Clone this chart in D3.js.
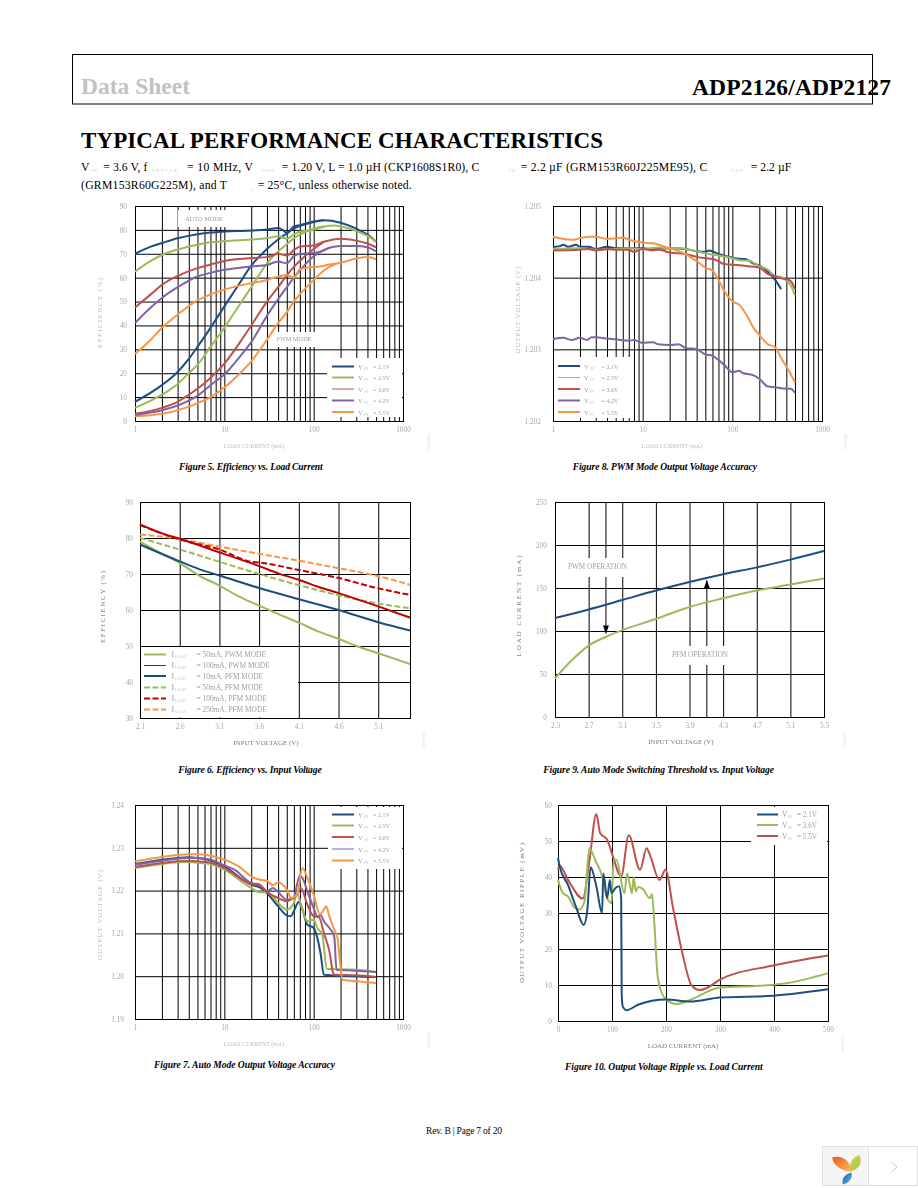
<!DOCTYPE html>
<html>
<head>
<meta charset="utf-8">
<style>
  html, body { margin: 0; padding: 0; background: #fff; }
  svg { display: block; }
  text { font-family: "Liberation Serif", serif; }
</style>
</head>
<body>
<svg width="918" height="1188"></svg>
<script src="https://d3js.org/d3.v7.min.js"></script>
<script>

// figure 5: efficiency vs load current, [mA, %]
var fig5Auto21 = [[1,70],[1.5,73],[2,74.5],[3,76.5],[5,78.2],[7,78.9],[10,79.3],[20,79.7],[30,80.2],[40,80.8],[45,80],[50,78.8],[55,80],[60,81.5],[70,82],[100,83.5],[130,84],[200,83],[300,80.5],[400,78],[500,75]];
var fig5Auto25 = [[1,62.5],[1.5,67],[2,69.5],[3,71.8],[5,73.8],[7,74.8],[10,75.3],[20,76],[30,76.5],[40,77.3],[50,76.3],[60,78],[70,79.3],[100,80],[130,81.3],[170,81.8],[200,81.5],[300,79.5],[400,77.5],[500,75]];
var fig5Auto36 = [[1,47.5],[1.5,53],[2,57],[3,60.7],[5,64],[7,65.5],[10,67],[20,68.2],[30,68.6],[40,70],[50,69.3],[60,71.5],[70,73],[100,73.5],[130,75],[200,76.3],[300,75.5],[400,74.3],[500,72.7]];
var fig5Auto42 = [[1,41],[1.5,47.5],[2,51.5],[3,56],[5,60.5],[7,62],[10,63.3],[20,64.7],[30,65.3],[40,66.8],[50,66],[60,69],[70,70],[100,70.3],[120,71],[150,72.5],[200,73.3],[300,73.3],[400,72.7],[500,71]];
var fig5Auto55 = [[1,28],[1.5,34],[2,39],[3,44.5],[5,50.5],[7,53],[10,55],[20,57.7],[30,59],[40,60.5],[50,61],[60,60],[70,63.5],[100,64.5],[120,64.7],[150,65.5],[200,66.3],[300,68],[400,68.6],[500,67.7]];
var fig5Pwm21 = [[1,8],[2,15],[3,20.5],[4,26],[5,31],[7,39],[10,48],[15,58],[20,65],[30,72],[40,76],[50,78.5],[60,80.5],[100,83.3],[130,84]];
var fig5Pwm25 = [[1,5.5],[2,11],[3,15.5],[4,20],[5,23.5],[7,31],[10,39],[15,49],[20,56],[30,66],[40,71],[50,74],[60,76.5],[70,78],[100,80.5],[130,81.5]];
var fig5Pwm36 = [[1,3],[2,5.5],[3,8],[4,11],[5,13.5],[7,18],[10,24],[15,33],[20,40],[30,50],[40,56],[50,61],[60,64.5],[70,67],[100,72],[130,75]];
var fig5Pwm42 = [[1,2.5],[2,4.5],[3,6.5],[4,8.5],[5,10.5],[7,15],[10,19.5],[15,27],[20,33],[30,44],[40,51],[50,56],[60,60],[70,63],[100,69],[130,71.5],[150,72.5]];
var fig5Pwm55 = [[1,2],[2,3],[3,4.5],[4,6],[5,7.5],[7,10],[10,14],[15,20],[20,25],[30,34],[40,41],[50,45.5],[60,50],[70,53],[100,59],[130,63],[170,65.5],[200,66.3]];

// figure 8: pwm mode output voltage, [mA, V]
var fig8V21 = [[1,1.20443],[1.2,1.20444],[1.3,1.20446],[1.5,1.20443],[1.8,1.20446],[2,1.20443],[2.5,1.20443],[3,1.2044],[4,1.20443],[5,1.20441],[7,1.20441],[10,1.20441],[13,1.2044],[20,1.20441],[30,1.2044],[40,1.20437],[50,1.20436],[55,1.20438],[70,1.20433],[100,1.20428],[130,1.20426],[140,1.20426],[170,1.2042],[200,1.20417],[250,1.20408],[300,1.20397],[350,1.20384]];
var fig8V25 = [[1,1.2044],[2,1.20441],[3,1.20439],[5,1.2044],[7,1.20441],[10,1.2044],[15,1.20442],[20,1.20441],[27,1.20441],[30,1.2044],[40,1.20437],[50,1.20434],[60,1.20432],[70,1.20431],[100,1.20427],[130,1.20424],[150,1.20424],[200,1.20416],[250,1.20411],[300,1.20402],[350,1.20401],[400,1.20396],[450,1.20389],[500,1.20375]];
var fig8V36 = [[1,1.20438],[2,1.20439],[2.5,1.2044],[3,1.20438],[4,1.2044],[5,1.20439],[7,1.20439],[8,1.20436],[10,1.2044],[13,1.20438],[15,1.20439],[20,1.20435],[30,1.20433],[40,1.20429],[50,1.20427],[60,1.20426],[70,1.20423],[80,1.20419],[100,1.20418],[130,1.20417],[150,1.20416],[200,1.20414],[250,1.20405],[300,1.20402],[350,1.20399],[400,1.20398],[450,1.20395],[500,1.20384]];
var fig8V42 = [[1,1.20314],[1.3,1.20316],[1.6,1.20313],[2,1.20316],[2.4,1.20313],[2.7,1.20317],[3,1.20317],[4,1.20315],[5,1.20314],[7,1.20312],[8,1.20313],[10,1.20309],[13,1.2031],[15,1.20307],[20,1.20306],[25,1.20307],[30,1.20302],[40,1.203],[50,1.20293],[60,1.20291],[70,1.20285],[80,1.20279],[100,1.20268],[120,1.2027],[130,1.20267],[170,1.20264],[200,1.20259],[250,1.20248],[300,1.20247],[400,1.20245],[450,1.20245],[500,1.20239]];
var fig8V55 = [[1,1.20457],[1.3,1.20454],[1.7,1.20453],[2,1.20455],[2.5,1.20457],[3,1.20457],[4,1.20454],[5,1.20455],[6,1.20456],[7,1.20453],[10,1.20449],[13,1.20448],[15,1.20446],[20,1.20441],[30,1.20433],[40,1.20423],[50,1.20414],[60,1.2041],[70,1.20397],[80,1.20383],[100,1.20367],[120,1.20362],[150,1.20344],[170,1.20331],[200,1.2032],[250,1.20307],[300,1.20303],[350,1.20288],[400,1.20276],[450,1.20265],[500,1.20254]];

// figure 6: efficiency vs input voltage, [V, %]
var fig6Pwm50 = [[2.1,79],[2.3,76.5],[2.6,73],[2.85,69.5],[3.1,66.8],[3.35,63.7],[3.6,61.2],[3.85,58.8],[4.1,56.5],[4.35,54],[4.6,52],[4.85,49.8],[5.1,48],[5.3,46.5],[5.5,45]];
var fig6Pwm100 = [[2.1,83.8],[2.35,81.5],[2.6,79.8],[3.1,76],[3.6,72.2],[3.85,70.1],[4.1,68.4],[4.35,66.4],[4.6,64.7],[5.1,61],[5.5,57.9]];
var fig6Pfm10 = [[2.1,78.2],[2.6,73.5],[2.85,71.3],[3.1,69.6],[3.6,66.1],[4.1,63],[4.6,60],[5.1,56.6],[5.5,54.3]];
var fig6Pfm50 = [[2.1,80],[2.6,76.8],[3.1,73.4],[3.6,70],[4.1,66.9],[4.6,64.1],[5.1,61.8],[5.5,60.5]];
var fig6Pfm100 = [[2.1,83.6],[2.6,79.6],[3.1,76.8],[3.5,73.4],[3.6,73.2],[4.1,71.1],[4.6,68.9],[5.1,66],[5.5,64.2]];
var fig6Pfm250 = [[2.1,81],[2.6,79.7],[3.1,77.6],[3.6,75.6],[4.1,73.7],[4.6,71.6],[5.1,69.4],[5.5,67]];

// figure 9: switching threshold, [V, mA]
var fig9Upper = [[2.3,115],[2.7,125],[3.1,136],[3.5,147],[3.9,157],[4.3,166],[4.7,174],[5.1,183],[5.5,193]];
var fig9Lower = [[2.3,45],[2.5,66],[2.7,83],[2.9,93],[3.1,101],[3.5,114],[3.9,128],[4.3,138],[4.7,147],[5.1,154],[5.5,161]];

// figure 7: auto mode output voltage, [mA, V]
var fig7V21 = [[1,1.22621],[2,1.22723],[3,1.22762],[4,1.22777],[5,1.22762],[7,1.22707],[10,1.22567],[20,1.22139],[25,1.22076],[30,1.21944],[40,1.21632],[50,1.21422],[55,1.21399],[60,1.21516],[68,1.21734],[75,1.21554],[85,1.21204],[100,1.21126],[110,1.20892],[120,1.20503],[130,1.20036],[300,1.19997],[400,1.19981],[500,1.19981]];
var fig7V25 = [[1,1.22528],[2,1.22621],[3,1.2266],[4,1.22668],[5,1.22653],[7,1.22621],[10,1.22489],[20,1.22061],[25,1.21959],[30,1.21967],[40,1.2171],[50,1.21554],[60,1.2171],[65,1.21921],[75,1.21554],[85,1.21282],[100,1.21321],[110,1.21126],[125,1.2097],[140,1.20176],[300,1.20153],[500,1.20098]];
var fig7V36 = [[1,1.22551],[2,1.22645],[3,1.22684],[4,1.22692],[5,1.22684],[7,1.22653],[10,1.22528],[20,1.22154],[25,1.22123],[30,1.21967],[40,1.21827],[50,1.21749],[55,1.21788],[65,1.21905],[72,1.22061],[85,1.21671],[100,1.21399],[115,1.21375],[130,1.21009],[150,1.20581],[165,1.20075],[170,1.20036],[300,1.2002],[500,1.19981]];
var fig7V42 = [[1,1.22606],[2,1.22699],[3,1.22745],[4,1.22762],[5,1.22762],[7,1.22723],[10,1.2259],[13,1.22489],[20,1.22177],[25,1.22139],[30,1.21983],[35,1.22061],[40,1.21967],[50,1.21788],[60,1.21827],[65,1.22139],[70,1.22349],[75,1.22294],[85,1.21983],[100,1.21593],[110,1.21399],[120,1.21422],[130,1.21282],[150,1.21126],[170,1.20931],[180,1.20153],[230,1.20137],[300,1.20129],[500,1.20098]];
var fig7V55 = [[1,1.22684],[2,1.22785],[3,1.22832],[4,1.22847],[5,1.22847],[7,1.22816],[8,1.22785],[10,1.22723],[13,1.22621],[15,1.22544],[20,1.22333],[25,1.22255],[30,1.22232],[35,1.22123],[40,1.22193],[50,1.22022],[56,1.21827],[65,1.21905],[75,1.22528],[85,1.22294],[100,1.21905],[117,1.21453],[130,1.21554],[138,1.21632],[150,1.21399],[170,1.21087],[185,1.20892],[195,1.20425],[210,1.19919],[300,1.1988],[400,1.19857],[500,1.19841]];

// figure 10: output ripple, [mA, mV]
var fig10V21 = [[0,45.3],[3,43],[18.5,37.8],[34,31.4],[47.5,26.7],[54,30.4],[60.5,42.7],[71,37.4],[81.5,30],[84,41],[91,34.1],[96,39.2],[99,35.5],[107,37],[113,37.4],[117,34],[118,7.2],[120,4],[127,3],[148,4.5],[200,6],[244,5.4],[300,6.5],[398,7],[500,8.8]];
var fig10V36 = [[0,39.2],[9,35.5],[18.5,34.6],[31,31.4],[40,31],[49,33.2],[58,48],[70,44.3],[80,41],[90,34.6],[99,32.7],[103,44.8],[108,44.8],[123,35.5],[128,41],[137,35.5],[140,40],[144,36],[148,37.2],[157,36.7],[170,34.1],[174,35.3],[178,28],[185,11.9],[198,6.3],[219,4.7],[244,5.8],[300,9.3],[373,9.8],[423,10.5],[500,13.3]];
var fig10V55 = [[0,42],[3,43.2],[18.5,39.2],[46,34],[58,44.3],[71,57.5],[78,52.2],[91,50.4],[99,47],[117,40.2],[131,51.6],[152,42],[164,48],[170,46.2],[188,39.2],[199,42],[213,31.4],[231,18.4],[247,10],[262,8.6],[275,9.1],[299,11.4],[398,15.4],[500,18.2]];

// axis ticks
var logTicks = [1,2,3,4,5,6,7,8,9,10,20,30,40,50,60,70,80,90,100,200,300,400,500,600,700,800,900,1000];
var logLabels = [1,10,100,1000];
var fig5Y = [0,10,20,30,40,50,60,70,80,90];
var fig8Y = [1.202,1.203,1.204,1.205];
var fig7Y = [1.19,1.20,1.21,1.22,1.23,1.24];
var fig6X = [2.1,2.6,3.1,3.6,4.1,4.6,5.1];
var fig6Y = [30,40,50,60,70,80,90];
var fig9X = [2.3,2.7,3.1,3.5,3.9,4.3,4.7,5.1,5.5];
var fig9Y = [0,50,100,150,200,250];
var fig10X = [0,100,200,300,400,500];
var fig10Y = [0,10,20,30,40,50,60];

var vinNames = ["2.1V","2.5V","3.6V","4.2V","5.5V"];
var ripNames = ["2.1V","3.6V","5.5V"];
var loadNames = ["50mA, PWM MODE","100mA, PWM MODE","10mA, PFM MODE","50mA, PFM MODE","100mA, PFM MODE","250mA, PFM MODE"];

var blue = "#1f4e80", green = "#9bbb59", red = "#c0504d", purple = "#8064a2", orange = "#f79646", dred = "#c00000";

var svg = d3.select("svg");

var defs = svg.append("defs");
// text has a bounding box, so its region follows it through any transform
defs.append("filter").attr("id", "soft").attr("x", "-20%").attr("y", "-50%").attr("width", "140%").attr("height", "200%")
    .append("feGaussianBlur").attr("stdDeviation", 0.35);
// a flat legend line has no bounding box, so this one uses the whole page
defs.append("filter").attr("id", "softLine").attr("filterUnits", "userSpaceOnUse")
    .attr("x", 0).attr("y", 0).attr("width", 918).attr("height", 1188)
    .append("feGaussianBlur").attr("stdDeviation", 0.3);

function fitText(t, x, y, len, size, opts) {
  opts = opts || {};
  return svg.append("text").attr("x", x).attr("y", y).text(t)
      .attr("textLength", len).attr("lengthAdjust", "spacing")
      .attr("font-size", size)
      .attr("font-weight", opts.weight || "normal")
      .attr("font-style", opts.style || "normal")
      .attr("fill", opts.fill || "#000");
}

function panel(c) {
  var x = (c.log ? d3.scaleLog() : d3.scaleLinear()).domain(c.xd).range([c.l, c.r]);
  var y = d3.scaleLinear().domain(c.yd).range([c.b, c.t]);
  var g = svg.append("g");

  var xAxis = d3.axisBottom(x).tickValues(c.xt).tickSizeInner(-(c.b - c.t)).tickSizeOuter(0).tickPadding(6)
      .tickFormat(c.log ? function(d) { return logLabels.indexOf(d) >= 0 ? d : ""; } : d3.format(c.xf || ".1f"));
  var yAxis = d3.axisLeft(y).tickValues(c.yt).tickSizeInner(-(c.r - c.l)).tickSizeOuter(0).tickPadding(c.yp)
      .tickFormat(d3.format(c.yf || "d"));

  var gx = g.append("g").attr("transform", "translate(0," + c.b + ")").call(xAxis);
  var gy = g.append("g").attr("transform", "translate(" + c.l + ",0)").call(yAxis);
  [gx, gy].forEach(function(a) {
    a.select(".domain").remove();
    a.selectAll("line").attr("stroke", "#000").attr("stroke-width", 1);
    a.selectAll("text").attr("font-family", "Liberation Serif").attr("font-size", 7.3).attr("fill", "#a8a8a8").attr("filter", "url(#soft)");
  });

  // arrows go under the white label boxes
  (c.arrows || []).forEach(function(a) {
    g.append("line").attr("x1", x(a.x) + .5).attr("x2", x(a.x) + .5).attr("y1", y(a.from)).attr("y2", y(a.to)).attr("stroke", "#000");
    var dir = a.to < a.from ? -1 : 1;
    g.append("path").attr("fill", "#000")
        .attr("d", "M" + (x(a.x) + .5) + "," + y(a.to) + "l-3," + (dir * 8) + "h6z");
  });

  (c.boxes || []).forEach(function(b) {
    g.append("rect").attr("x", b[0]).attr("y", b[1]).attr("width", b[2] - b[0]).attr("height", b[3] - b[1]).attr("fill", "#fff");
  });

  g.append("rect").attr("x", c.l + .5).attr("y", c.t + .5).attr("width", c.r - c.l).attr("height", c.b - c.t)
      .attr("fill", "none").attr("stroke", "#000");

  var line = d3.line().curve(d3.curveMonotoneX)
      .x(function(d) { return x(d[0]); })
      .y(function(d) { return y(d[1]); });

  g.append("g").attr("fill", "none").attr("stroke-linejoin", "round").attr("filter", "url(#softLine)")
    .selectAll("path").data(c.series).enter().append("path")
      .attr("d", function(s) { return line(s.v); })
      .attr("stroke", function(s) { return s.c; })
      .attr("stroke-width", function(s) { return s.w || 2; })
      .attr("stroke-dasharray", function(s) { return s.dash ? "6,2.5" : null; });

  var lab = g.append("g").attr("fill", "#a0a0a0");

  (c.labels || []).forEach(function(t) {
    lab.append("text").attr("x", t[1]).attr("y", t[2]).attr("text-anchor", "middle").attr("font-size", t[3]).attr("filter", "url(#soft)").text(t[0]);
  });

  // legend
  var L = c.legend;
  L.items.forEach(function(it, i) {
    var ly = L.ys[i];
    g.append("line").attr("x1", L.x0).attr("x2", L.x1).attr("y1", ly).attr("y2", ly)
        .attr("stroke", it.c).attr("stroke-width", it.w || 2).attr("stroke-dasharray", it.dash ? "6,2.5" : null)
        .attr("filter", "url(#softLine)");
    lab.append("text").attr("x", L.tx).attr("y", ly + 2.5).attr("font-size", L.fs + .6).attr("filter", "url(#soft)").text(L.sym);
    lab.append("text").attr("x", L.sx).attr("y", ly + 3.5).attr("font-size", 4).attr("fill", "#c4c4c4").attr("filter", "url(#soft)").text(L.sub);
    lab.append("text").attr("x", L.ex).attr("y", ly + 2.5).attr("font-size", L.fs).attr("filter", "url(#soft)").text("= " + it.t);
  });

  // axis titles, spread out like the original
  lab.append("text").attr("x", c.xtitle[1]).attr("y", c.xtitle[2]).attr("text-anchor", "middle")
      .attr("fill", c.titleFill).attr("font-size", c.xtitle[3]).attr("filter", "url(#soft)").text(c.xtitle[0]);
  lab.append("text").attr("transform", "translate(" + c.ytitle[1] + "," + c.ytitle[2] + ") rotate(-90)")
      .attr("text-anchor", "middle").attr("fill", c.titleFill).attr("font-size", 7).attr("filter", "url(#soft)")
      .attr("textLength", c.ytitle[3]).attr("lengthAdjust", "spacing").text(c.ytitle[0]);

  // drawing number along the right edge
  svg.append("text").attr("transform", "translate(" + c.id[1] + "," + c.id[2] + ") rotate(-90)")
      .attr("font-size", 3.6).attr("fill", "#d8d8d8").attr("filter", "url(#soft)").text(c.id[0]);

  fitText(c.cap[0], c.cap[1], c.cap[2], c.cap[3], 9.6, { style: "italic", weight: "bold" });
}

function vinItems(names, colors, widths) {
  return names.map(function(n, i) { return { t: n, c: colors[i], w: widths[i] }; });
}

// page header
svg.append("rect").attr("x", 72.5).attr("y", 54.5).attr("width", 800).attr("height", 49.5)
    .attr("fill", "none").attr("stroke", "#000");
fitText("Data Sheet", 81, 94, 109, 23.5, { weight: "bold", fill: "#c2c2c2" });
fitText("ADP2126/ADP2127", 692, 95, 199, 23.5, { weight: "bold" });
fitText("TYPICAL PERFORMANCE CHARACTERISTICS", 81, 147.5, 522, 23, { weight: "bold" });

// conditions paragraph
var condMain = [["V", 81, 170.5, 9], ["= 3.6 V, f", 103.3, 170.5, 44], ["= 10 MHz, V", 187, 170.5, 66],
  ["= 1.20 V, L = 1.0 \u00b5H (CKP1608S1R0), C", 281.7, 170.5, 197.5], ["= 2.2 \u00b5F (GRM153R60J225ME95), C", 520.7, 170.5, 186.5],
  ["= 2.2 \u00b5F", 750.7, 170.5, 40.5], ["(GRM153R60G225M), and T", 81, 189, 146], ["= 25\u00b0C, unless otherwise noted.", 257.7, 189, 154]];
var condSubs = [["IN", 91, 172, 6], ["EXTCLK", 152, 172, 25], ["OUT", 262, 172, 12], ["IN", 509, 172, 6], ["OUT", 731, 172, 12], ["A", 250, 190.5, 4]];
condMain.forEach(function(d) { fitText(d[0], d[1], d[2], d[3], 11.7); });
condSubs.forEach(function(d) { fitText(d[0], d[1], d[2], d[3], 4.5, { fill: "#c8c8c8" }); });

// figure 5
panel({
  l: 135, r: 403, t: 206, b: 421, log: true, xd: [1, 1000], yd: [0, 90], xt: logTicks, yt: fig5Y, yp: 8,
  series: [
    { v: fig5Pwm55, c: orange }, { v: fig5Pwm42, c: purple }, { v: fig5Pwm36, c: red }, { v: fig5Pwm25, c: green }, { v: fig5Pwm21, c: blue },
    { v: fig5Auto21, c: blue }, { v: fig5Auto25, c: green }, { v: fig5Auto36, c: red }, { v: fig5Auto42, c: purple }, { v: fig5Auto55, c: orange }
  ],
  boxes: [[178, 210, 228, 227], [272, 332, 317, 347], [327, 358, 402, 417]],
  labels: [["AUTO MODE", 204, 221, 6.3], ["PWM MODE", 294, 341, 6.3]],
  legend: { x0: 332, x1: 354, tx: 358, sx: 364, ex: 373, fs: 6, sym: "V", sub: "IN", ys: [366.5, 377.5, 389, 400.5, 412],
    items: vinItems(vinNames, [blue, green, red, purple, orange], [2, 2, 1, 2, 2]) },
  xtitle: ["LOAD CURRENT (mA)", 254, 448, 6], ytitle: ["EFFICIENCY (%)", 102, 313, 70], titleFill: "#bcbcbc",
  id: ["10228-005", 430, 450], cap: ["Figure 5. Efficiency vs. Load Current", 179, 470, 143.7]
});

// figure 8
panel({
  l: 553, r: 822, t: 206, b: 421, log: true, xd: [1, 1000], yd: [1.202, 1.205], xt: logTicks, yt: fig8Y, yf: ".3f", yp: 12,
  series: [{ v: fig8V21, c: blue }, { v: fig8V25, c: green }, { v: fig8V36, c: red }, { v: fig8V42, c: purple }, { v: fig8V55, c: orange }],
  boxes: [[555, 357, 634, 418]],
  legend: { x0: 558, x1: 580, tx: 584, sx: 590, ex: 601.5, fs: 6, sym: "V", sub: "IN", ys: [366, 377.5, 389, 400.5, 412],
    items: vinItems(vinNames, [blue, green, red, purple, orange], [2, 1, 2, 2, 2]) },
  xtitle: ["LOAD CURRENT (mA)", 672, 448, 6], ytitle: ["OUTPUT VOLTAGE (V)", 520, 310, 87], titleFill: "#bcbcbc",
  id: ["10228-008", 847, 450], cap: ["Figure 8. PWM Mode Output Voltage Accuracy", 572.7, 470, 184.3]
});

// figure 6
panel({
  l: 140, r: 410, t: 502, b: 718, xd: [2.1, 5.5], yd: [30, 90], xt: fig6X, yt: fig6Y, yp: 7,
  series: [
    { v: fig6Pfm250, c: orange, dash: true }, { v: fig6Pfm50, c: green, dash: true }, { v: fig6Pfm100, c: dred, dash: true },
    { v: fig6Pwm50, c: green }, { v: fig6Pfm10, c: blue }, { v: fig6Pwm100, c: dred }
  ],
  boxes: [[141, 647, 298, 717.5]],
  legend: { x0: 144, x1: 166, tx: 171.5, sx: 175, ex: 196.5, fs: 7.4, sym: "I", sub: "LOAD", ys: [654.5, 665.5, 676, 687.5, 698.5, 709.5],
    items: [{ t: loadNames[0], c: green }, { t: loadNames[1], c: dred, w: 1 }, { t: loadNames[2], c: blue },
      { t: loadNames[3], c: green, dash: true }, { t: loadNames[4], c: dred, dash: true }, { t: loadNames[5], c: orange, dash: true }] },
  xtitle: ["INPUT VOLTAGE (V)", 266, 745, 7], ytitle: ["EFFICIENCY (%)", 105, 607, 72], titleFill: "#808080",
  id: ["10228-006", 425, 748], cap: ["Figure 6. Efficiency vs. Input Voltage", 178.3, 773, 143.4]
});

// figure 9
panel({
  l: 555, r: 824, t: 502, b: 717, xd: [2.3, 5.5], yd: [0, 250], xt: fig9X, yt: fig9Y, yp: 8,
  series: [{ v: fig9Upper, c: blue }, { v: fig9Lower, c: green }],
  arrows: [{ x: 2.9, from: 250, to: 97 }, { x: 4.1, from: 0, to: 159 }],
  boxes: [[565, 558, 630, 577], [670, 646, 730, 665]],
  labels: [["PWM OPERATION", 597.5, 569, 7.2], ["PFM OPERATION", 700, 657, 7.2]],
  legend: { x0: 0, x1: 0, tx: 0, sx: 0, ex: 0, fs: 6, sym: "", sub: "", ys: [], items: [] },
  xtitle: ["INPUT VOLTAGE (V)", 681, 744, 7], ytitle: ["LOAD CURRENT (mA)", 521, 606, 101], titleFill: "#808080",
  id: ["10228-009", 846, 748], cap: ["Figure 9. Auto Mode Switching Threshold vs. Input Voltage", 543.3, 773, 230.7]
});

// figure 7
panel({
  l: 135, r: 403, t: 805, b: 1019, log: true, xd: [1, 1000], yd: [1.19, 1.24], xt: logTicks, yt: fig7Y, yf: ".2f", yp: 11,
  series: [{ v: fig7V21, c: blue }, { v: fig7V25, c: green }, { v: fig7V42, c: purple }, { v: fig7V36, c: red }, { v: fig7V55, c: orange }],
  boxes: [[328, 807, 402, 869]],
  legend: { x0: 332, x1: 354, tx: 358, sx: 364, ex: 373, fs: 6, sym: "V", sub: "IN", ys: [814.5, 825.5, 837, 849, 860.5],
    items: vinItems(vinNames, [blue, green, red, purple, orange], [2, 2, 2, 1, 2]) },
  xtitle: ["LOAD CURRENT (mA)", 254, 1046, 6], ytitle: ["OUTPUT VOLTAGE (V)", 102, 915, 90], titleFill: "#bcbcbc",
  id: ["10228-007", 430, 1048], cap: ["Figure 7. Auto Mode Output Voltage Accuracy", 154, 1067.5, 181]
});

// figure 10
panel({
  l: 558, r: 828, t: 805, b: 1021, xd: [0, 500], yd: [0, 60], xt: fig10X, xf: "d", yt: fig10Y, yp: 6,
  series: [{ v: fig10V55, c: red }, { v: fig10V36, c: green }, { v: fig10V21, c: blue }],
  boxes: [[751, 807, 827, 845]],
  legend: { x0: 757, x1: 778, tx: 782, sx: 788, ex: 797, fs: 7.2, sym: "V", sub: "IN", ys: [814.5, 825, 836],
    items: vinItems(ripNames, [blue, green, red], [2, 2, 2]) },
  xtitle: ["LOAD CURRENT (mA)", 683, 1048, 7], ytitle: ["OUTPUT VOLTAGE RIPPLE (mV)", 524, 913, 140], titleFill: "#808080",
  id: ["10228-010", 844, 1052], cap: ["Figure 10. Output Voltage Ripple vs. Load Current", 565, 1070, 197.7]
});

// footer
fitText("Rev. B | Page 7 of 20", 426, 1134, 76, 9.5);

// viewer widget in the corner
var grad = [["gOrange", "#e8581c", "#fbc060"], ["gGreen", "#d8d860", "#9cc032"], ["gBlue", "#0a62b0", "#6cb4e6"]];
grad.forEach(function(g) {
  var lg = defs.append("linearGradient").attr("id", g[0]).attr("x1", 0).attr("y1", 0).attr("x2", 1).attr("y2", 1);
  lg.append("stop").attr("offset", 0).attr("stop-color", g[1]);
  lg.append("stop").attr("offset", 1).attr("stop-color", g[2]);
});
svg.append("rect").attr("x", 822.5).attr("y", 1146.5).attr("width", 46).attr("height", 39).attr("fill", "#f5f5f5").attr("stroke", "#e0e0e0");
svg.append("rect").attr("x", 868.5).attr("y", 1146.5).attr("width", 49).attr("height", 39).attr("fill", "#fff").attr("stroke", "#e0e0e0");
svg.append("path").attr("fill", "url(#gOrange)").attr("d", "M832,1157.5C840,1155 850,1158 851.5,1172C843,1171 834,1167 832,1157.5z");
svg.append("path").attr("fill", "url(#gGreen)").attr("d", "M859,1155C863,1162 860,1168 851,1171.5C848,1165 851,1158 859,1155z");
svg.append("path").attr("fill", "url(#gBlue)").attr("d", "M851.5,1172.5C853,1178 849,1183 843,1184.5C841,1179 845,1174 851.5,1172.5z");
svg.append("path").attr("fill", "none").attr("stroke", "#c8c8c8").attr("d", "M891.5,1162l5.5,5l-5.5,5");

</script>
</body>
</html>
